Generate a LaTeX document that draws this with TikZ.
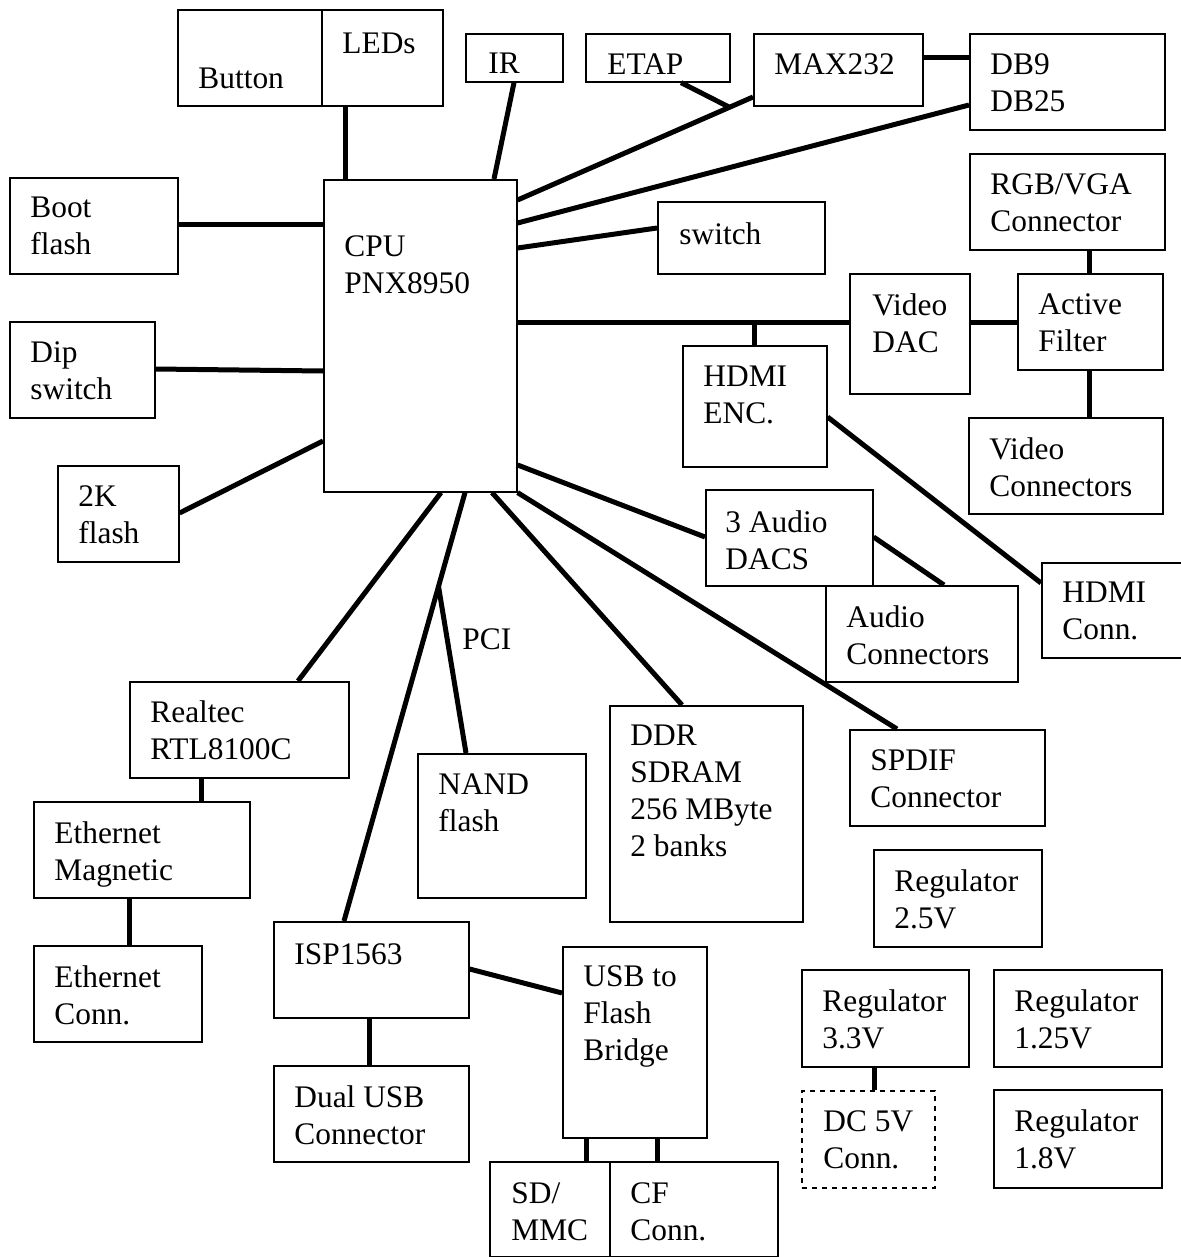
\documentclass[tikz,border=0pt]{standalone}
\usepackage{fontspec}
\setmainfont{Liberation Serif}
\usepackage{tikz}

\begin{document}
\begin{tikzpicture}[x=0.5pt,y=-0.5pt,
    box/.style={shape=rectangle,draw=black,line width=0.8pt,anchor=north west,inner sep=0pt},
    sz/.style 2 args={minimum width=#1*0.5pt,minimum height=#2*0.5pt},
    txt/.style={anchor=north west,inner sep=0pt,align=left,font=\fontsize{15.7}{18.5}\selectfont},
    wire/.style={draw=black,line width=2.5pt}]
  \useasboundingbox (0,0) rectangle (1180,1257);

  % top row
  \node[box,sz={144}{96}](btn) at (177,9) {};
  \node[txt](btn-t) at ([shift={(21,59)}]btn.north west) {Button};
  \node[box,sz={121}{96}](leds) at (321,9) {};
  \node[txt](leds-t) at ([shift={(21,24)}]leds.north west) {LEDs};
  \node[box,sz={97}{48}](ir) at (465,33) {};
  \node[txt](ir-t) at ([shift={(23,20)}]ir.north west) {IR};
  \node[box,sz={144}{48}](etap) at (585,33) {};
  \node[txt](etap-t) at ([shift={(22,20)}]etap.north west) {ETAP};
  \node[box,sz={169}{72}](max) at (753,33) {};
  \node[txt](max-t) at ([shift={(21,20)}]max.north west) {MAX232};
  \node[box,sz={195}{96}](db) at (969,33) {};
  \node[txt](db-t) at ([shift={(21,20)}]db.north west) {DB9\\DB25};
  \node[box,sz={195}{96}](rgb) at (969,153) {};
  \node[txt](rgb-t) at ([shift={(21,20)}]rgb.north west) {RGB/VGA\\Connector};

  % left column and cpu
  \node[box,sz={168}{96}](boot) at (9,177) {};
  \node[txt](boot-t) at ([shift={(21,20)}]boot.north west) {Boot\\flash};
  \node[box,sz={193}{312}](cpu) at (323,179) {};
  \node[txt](cpu-t) at ([shift={(21,56)}]cpu.north west) {CPU\\PNX8950};
  \node[box,sz={145}{96}](dip) at (9,321) {};
  \node[txt](dip-t) at ([shift={(21,20)}]dip.north west) {Dip\\switch};
  \node[box,sz={121}{96}](twok) at (57,465) {};
  \node[txt](twok-t) at ([shift={(21,20)}]twok.north west) {2K\\flash};

  % video and audio
  \node[box,sz={167}{72}](sw) at (657,201) {};
  \node[txt](sw-t) at ([shift={(22,21)}]sw.north west) {switch};
  \node[box,sz={120}{120}](dac) at (849,273) {};
  \node[txt](dac-t) at ([shift={(23,20)}]dac.north west) {Video\\DAC};
  \node[box,sz={145}{96}](af) at (1017,273) {};
  \node[txt](af-t) at ([shift={(21,20)}]af.north west) {Active\\Filter};
  \node[box,sz={144}{121}](enc) at (682,345) {};
  \node[txt](enc-t) at ([shift={(21,21)}]enc.north west) {HDMI\\ENC.};
  \node[box,sz={194}{96}](vcon) at (968,417) {};
  \node[txt](vcon-t) at ([shift={(21,20)}]vcon.north west) {Video\\Connectors};
  \node[box,sz={167}{96}](adac) at (705,489) {};
  \node[txt](adac-t) at ([shift={(20,21)}]adac.north west) {3 Audio\\DACS};
  \node[box,sz={192}{96}](acon) at (825,585) {};
  \node[txt](acon-t) at ([shift={(21,20)}]acon.north west) {Audio\\Connectors};
  \node[box,sz={150}{95}](hcon) at (1041,562) {};
  \node[txt](hcon-t) at ([shift={(21,20)}]hcon.north west) {HDMI\\Conn.};
  \node[box,sz={195}{96}](spdif) at (849,729) {};
  \node[txt](spdif-t) at ([shift={(21,20)}]spdif.north west) {SPDIF\\Connector};

  % lower half
  \node[box,sz={219}{96}](rtl) at (129,681) {};
  \node[txt](rtl-t) at ([shift={(21,19)}]rtl.north west) {Realtec\\RTL8100C};
  \node[box,sz={216}{96}](emag) at (33,801) {};
  \node[txt](emag-t) at ([shift={(21,20)}]emag.north west) {Ethernet\\Magnetic};
  \node[box,sz={168}{96}](econ) at (33,945) {};
  \node[txt](econ-t) at ([shift={(21,20)}]econ.north west) {Ethernet\\Conn.};
  \node[box,sz={168}{144}](nand) at (417,753) {};
  \node[txt](nand-t) at ([shift={(21,20)}]nand.north west) {NAND\\flash};
  \node[box,sz={193}{216}](ddr) at (609,705) {};
  \node[txt](ddr-t) at ([shift={(21,20)}]ddr.north west) {DDR\\SDRAM\\256 MByte\\2 banks};
  \node[box,sz={195}{96}](isp) at (273,921) {};
  \node[txt](isp-t) at ([shift={(21,22)}]isp.north west) {ISP1563};
  \node[box,sz={195}{96}](dusb) at (273,1065) {};
  \node[txt](dusb-t) at ([shift={(21,20)}]dusb.north west) {Dual USB\\Connector};
  \node[box,sz={144}{191}](bridge) at (562,946) {};
  \node[txt](bridge-t) at ([shift={(21,19)}]bridge.north west) {USB to\\Flash\\Bridge};
  \node[box,sz={120}{95}](sd) at (489,1161) {};
  \node[txt](sd-t) at ([shift={(22,21)}]sd.north west) {SD/\\MMC};
  \node[box,sz={168}{95}](cf) at (609,1161) {};
  \node[txt](cf-t) at ([shift={(21,21)}]cf.north west) {CF\\Conn.};

  % power
  \node[box,sz={168}{97}](reg25) at (873,849) {};
  \node[txt](reg25-t) at ([shift={(21,20)}]reg25.north west) {Regulator\\2.5V};
  \node[box,sz={167}{97}](reg33) at (801,969) {};
  \node[txt](reg33-t) at ([shift={(21,20)}]reg33.north west) {Regulator\\3.3V};
  \node[box,sz={168}{97}](reg125) at (993,969) {};
  \node[txt](reg125-t) at ([shift={(21,20)}]reg125.north west) {Regulator\\1.25V};
  \node[box,sz={133}{97},dash pattern=on 2.5pt off 2.5pt](dc) at (801,1090) {};
  \node[txt](dc-t) at ([shift={(22,20)}]dc.north west) {DC 5V\\Conn.};
  \node[box,sz={168}{98}](reg18) at (993,1089) {};
  \node[txt](reg18-t) at ([shift={(21,20)}]reg18.north west) {Regulator\\1.8V};

  \node[txt](pci) at (462,628) {PCI};

  % connections
  \draw[wire] (345,0 |- leds.south) -- (345,0 |- cpu.north);
  \draw[wire] (514,0 |- ir.south) -- (494,0 |- cpu.north);
  \draw[wire] (cpu.east |- 0,200) -- coordinate[pos=0.9] (etapj) (max.west |- 0,97);
  \draw[wire] (681,0 |- etap.south) -- (etapj);
  \draw[wire] (max.east |- 0,58) -- (db.west |- 0,58);
  \draw[wire] (cpu.east |- 0,223) -- (db.west |- 0,105);
  \draw[wire] (cpu.east |- 0,248) -- (sw.west |- 0,228);
  \draw[wire] (cpu.east |- 0,322) -- coordinate[pos=0.714] (vidj) (dac.west |- 0,322);
  \draw[wire] (vidj) -- (vidj |- enc.north);
  \draw[wire] (dac.east |- 0,322) -- (af.west |- 0,322);
  \draw[wire] (1089,0 |- rgb.south) -- (1089,0 |- af.north);
  \draw[wire] (1089,0 |- af.south) -- (1089,0 |- vcon.north);
  \draw[wire] (enc.east |- 0,417) -- (hcon.west |- 0,583);
  \draw[wire] (boot.east |- 0,225) -- (cpu.west |- 0,225);
  \draw[wire] (dip.east |- 0,369) -- (cpu.west |- 0,371);
  \draw[wire] (twok.east |- 0,513) -- (cpu.west |- 0,441);
  \draw[wire] (cpu.east |- 0,465) -- (adac.west |- 0,537);
  \draw[wire] (adac.east |- 0,537) -- (944,0 |- acon.north);
  \draw[wire] (cpu.south east) -- (897,0 |- spdif.north);
  \draw[wire] (492,0 |- cpu.south) -- (682,0 |- ddr.north);
  \draw[wire] (441,0 |- cpu.south) -- (298,0 |- rtl.north);
  \draw[wire] (465,0 |- cpu.south) -- coordinate[pos=0.219] (pcij) (344,0 |- isp.north);
  \draw[wire] (pcij) -- (466,0 |- nand.north);
  \draw[wire] (201,0 |- rtl.south) -- (201,0 |- emag.north);
  \draw[wire] (129,0 |- emag.south) -- (129,0 |- econ.north);
  \draw[wire] (369,0 |- isp.south) -- (369,0 |- dusb.north);
  \draw[wire] (isp.east |- 0,969) -- (bridge.west |- 0,993);
  \draw[wire] (586,0 |- bridge.south) -- (586,0 |- sd.north);
  \draw[wire] (657,0 |- bridge.south) -- (657,0 |- cf.north);
  \draw[wire] (874,0 |- reg33.south) -- (874,0 |- dc.north);
\end{tikzpicture}
\end{document}
